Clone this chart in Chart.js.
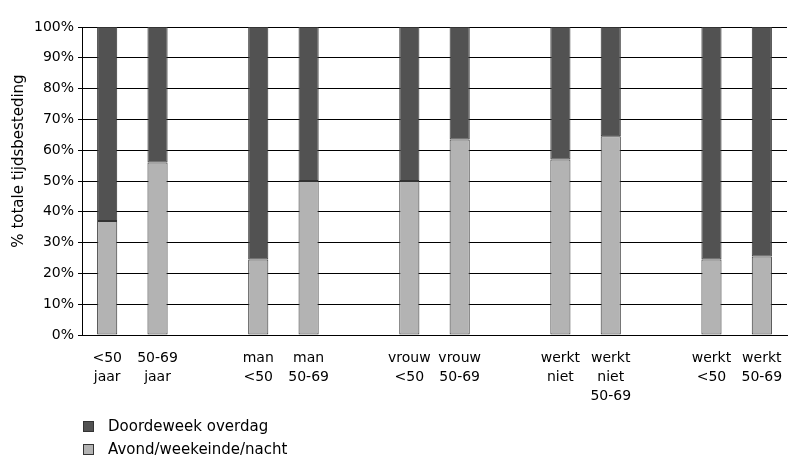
<!DOCTYPE html>
<html>
<head>
<meta charset="utf-8">
<script src="https://cdn.jsdelivr.net/npm/chart.js@4/dist/chart.umd.min.js"></script>
<style>
  html, body { margin: 0; padding: 0; background: #fff; }
  #wrap { position: relative; width: 791px; height: 458px; }
</style>
</head>
<body>
<div id="wrap"><canvas id="c" width="791" height="458"></canvas></div>
<script>
const categories = [
  ["<50", "jaar"], ["50-69", "jaar"], "",
  ["man", "<50"], ["man", "50-69"], "",
  ["vrouw", "<50"], ["vrouw", "50-69"], "",
  ["werkt", "niet"], ["werkt", "niet", "50-69"], "",
  ["werkt", "<50"], ["werkt", "50-69"]
];
const avondWeekeindeNacht = [37, 56, null, 24.5, 50, null, 50, 63.5, null, 57, 64.5, null, 24.5, 25.5];
const doordeweekOverdag   = [63, 44, null, 75.5, 50, null, 50, 36.5, null, 43, 35.5, null, 75.5, 74.5];
const seriesNames = ["Doordeweek overdag", "Avond/weekeinde/nacht"];
const yTitle = "% totale tijdsbesteding";
const yTickValues = [0, 10, 20, 30, 40, 50, 60, 70, 80, 90, 100];

const DARK = "#525252";
const LIGHT = "#b3b3b3";
const EDGE = "#333333";
const FONT = "'DejaVu Sans', sans-serif";

const extras = {
  id: "extras",
  afterDraw(chart) {
    const ctx = chart.ctx;
    ctx.save();
    ctx.fillStyle = "#000";
    ctx.font = "15px " + FONT;
    ctx.textAlign = "center";
    ctx.textBaseline = "middle";
    ctx.translate(19, 161);
    ctx.rotate(-Math.PI / 2);
    ctx.fillText(yTitle, 0, 0);
    ctx.restore();

    ctx.save();
    const items = [
      { text: seriesNames[0], color: DARK, y: 427 },
      { text: seriesNames[1], color: LIGHT, y: 450 }
    ];
    ctx.font = "15px " + FONT;
    ctx.textAlign = "left";
    ctx.textBaseline = "middle";
    items.forEach(it => {
      ctx.fillStyle = it.color;
      ctx.fillRect(83.5, it.y - 5.5, 10, 10);
      ctx.strokeStyle = EDGE;
      ctx.lineWidth = 1;
      ctx.strokeRect(83.5, it.y - 5.5, 10, 10);
      ctx.fillStyle = "#000";
      ctx.fillText(it.text, 108, it.y);
    });
    ctx.restore();
  }
};

new Chart(document.getElementById("c"), {
  type: "bar",
  data: {
    labels: categories,
    datasets: [
      {
        label: seriesNames[1],
        data: avondWeekeindeNacht,
        backgroundColor: LIGHT,
        borderColor: EDGE,
        borderWidth: 1,
        borderSkipped: false,
        barPercentage: 0.4,
        categoryPercentage: 1.0
      },
      {
        label: seriesNames[0],
        data: doordeweekOverdag,
        backgroundColor: DARK,
        borderColor: EDGE,
        borderWidth: 1,
        borderSkipped: false,
        barPercentage: 0.4,
        categoryPercentage: 1.0
      }
    ]
  },
  options: {
    responsive: false,
    animation: false,
    devicePixelRatio: 1,
    layout: { padding: { top: 27, right: 4, bottom: 0, left: 0 } },
    plugins: {
      legend: { display: false },
      tooltip: { enabled: false },
      title: { display: false }
    },
    scales: {
      x: {
        stacked: true,
        grid: { display: false, drawTicks: false },
        border: { display: true, color: "#000", width: 1 },
        ticks: {
          autoSkip: false,
          maxRotation: 0,
          minRotation: 0,
          padding: 14,
          color: "#000",
          font: { family: FONT, size: 14, lineHeight: 1.35 }
        },
        afterFit(scale) {
          scale.height = 123;
          scale.paddingLeft = 0;
          scale.paddingRight = 0;
        }
      },
      y: {
        stacked: true,
        min: 0,
        max: 100,
        afterBuildTicks(scale) { scale.ticks = yTickValues.map(v => ({ value: v })); },
        grid: { color: "#000", lineWidth: 1, tickLength: 4, drawTicks: true },
        border: { display: true, color: "#000", width: 1 },
        ticks: {
          padding: 4,
          color: "#000",
          font: { family: FONT, size: 14 },
          callback: v => v + "%"
        },
        afterFit(scale) { scale.width = 82; }
      }
    }
  },
  plugins: [extras]
});
</script>
</body>
</html>
